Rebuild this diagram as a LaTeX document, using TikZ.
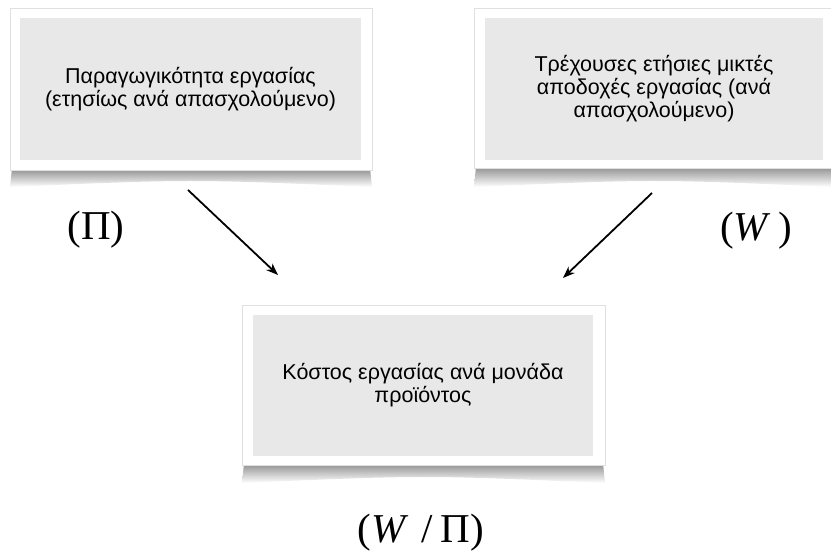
\documentclass[tikz,border=0pt]{standalone}
\usepackage{fontspec}
\setmainfont{Liberation Serif}
\newfontfamily\boxfont{Liberation Sans}
\usetikzlibrary{arrows.meta}
\tikzset{
  frame/.style={fill=white, draw=black!12, line width=0.6pt, inner sep=0pt},
  graybox/.style={fill=black!9, draw=none, inner sep=0pt, align=center,
     font=\boxfont\fontsize{21.5}{23}\selectfont, text=black},
  biglabel/.style={font=\fontsize{41}{45}\selectfont, inner sep=0pt},
  conn/.style={line width=1.8pt, -{Stealth[length=12pt,width=9pt]}},
  shadowband/.style={top color=black!45, bottom color=white, draw=none}
}
\begin{document}
\begin{tikzpicture}[x=1pt,y=-1pt]
\useasboundingbox (0,0) rectangle (831,553);
% shadows
\shade[shadowband] (12,168) -- (10,187) .. controls (191,179) .. (372,187) -- (370,168) -- cycle;
\shade[shadowband] (476,166) -- (474,187) .. controls (654,179) .. (834,187) -- (832,166) -- cycle;
\shade[shadowband] (244,463) -- (242,483) .. controls (423,475) .. (605,483) -- (603,463) -- cycle;
% frames
\node[frame, minimum width=362pt, minimum height=162pt] (tlf) at (191,89) {};
\node[frame, minimum width=360pt, minimum height=160pt] (trf) at (654,88) {};
\node[frame, minimum width=363pt, minimum height=160pt] (bf) at (423.5,385) {};
% gray boxes
\node[graybox, minimum width=341pt, minimum height=142pt] (tl) at (190.5,89)
  {Παραγωγικότητα εργασίας\\(ετησίως ανά απασχολούμενο)};
\node[graybox, minimum width=338pt, minimum height=142pt] (tr) at (654,89)
  {Τρέχουσες ετήσιες μικτές\\αποδοχές εργασίας (ανά\\απασχολούμενο)};
\node[graybox, minimum width=340pt, minimum height=141pt] (b) at (423,385.5)
  {Κόστος εργασίας ανά μονάδα\\προϊόντος};
% labels
\node[biglabel] (lp) at (96,230) {(Π)};
\node[biglabel] (lw) at (756,231) {(\textit{W}\,)};
\node[biglabel] (lwp) at (421,533) {(\textit{W}\hspace{0.3em}/\hspace{0.2em}Π)};
% arrows
\coordinate (a1s) at (188,190);
\coordinate (a1e) at (278,275);
\coordinate (a2s) at (652,193);
\coordinate (a2e) at (563,278);
\draw[conn] (a1s) -- (a1e);
\draw[conn] (a2s) -- (a2e);
\end{tikzpicture}
\end{document}
